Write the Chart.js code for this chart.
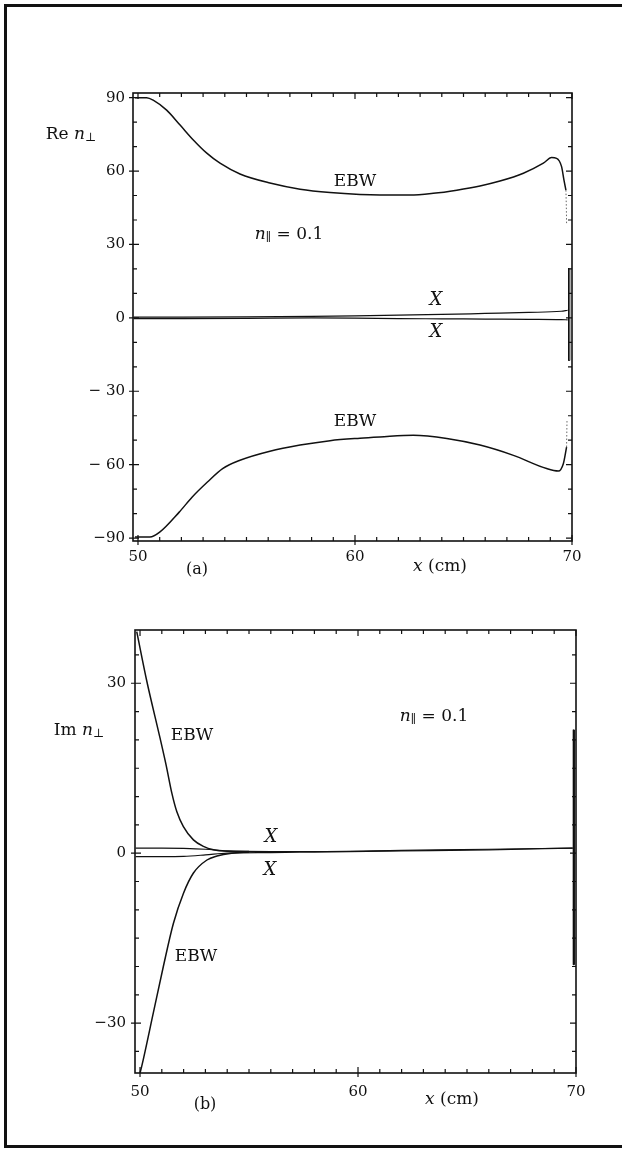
<!DOCTYPE html>
<html><head><meta charset="utf-8">
<script src="https://cdn.jsdelivr.net/npm/chart.js@4.4.1/dist/chart.umd.min.js"></script>
<style>
html,body{margin:0;padding:0;background:#fff;}
#page{position:relative;width:622px;height:1150px;overflow:hidden;background:#fff;}
#frame{position:absolute;left:4px;top:4px;width:700px;height:1138px;border:3px solid #111;border-right:none;}
canvas{position:absolute;left:0;}
.lbl{position:absolute;transform:translate(-50%,-50%);font-family:'DejaVu Serif',serif;color:#111;white-space:nowrap;line-height:1;}
.lbl sub{font-size:70%;vertical-align:-0.25em;line-height:0;}
</style></head>
<body><div id="page">
<div id="frame"></div>
<canvas id="cRe" width="622" height="590" style="top:0"></canvas>
<canvas id="cIm" width="622" height="560" style="top:590px"></canvas>

<div class="lbl" style="left:71px;top:133px;font-size:17px;">Re <i>n</i><sub>⊥</sub></div>
<div class="lbl" style="left:355px;top:180px;font-size:17px;">EBW</div>
<div class="lbl" style="left:289px;top:233px;font-size:17px;"><i>n</i><sub>∥</sub> = 0.1</div>
<div class="lbl" style="left:436px;top:299px;font-size:18px;"><i>X</i></div>
<div class="lbl" style="left:436px;top:331px;font-size:18px;"><i>X</i></div>
<div class="lbl" style="left:355px;top:420px;font-size:17px;">EBW</div>
<div class="lbl" style="left:197px;top:569px;font-size:16px;">(a)</div>
<div class="lbl" style="left:440px;top:565px;font-size:17px;"><i>x</i> (cm)</div>

<div class="lbl" style="left:79px;top:729px;font-size:17px;">Im <i>n</i><sub>⊥</sub></div>
<div class="lbl" style="left:192px;top:734px;font-size:17px;">EBW</div>
<div class="lbl" style="left:434px;top:715px;font-size:17px;"><i>n</i><sub>∥</sub> = 0.1</div>
<div class="lbl" style="left:271px;top:836px;font-size:18px;"><i>X</i></div>
<div class="lbl" style="left:270px;top:869px;font-size:18px;"><i>X</i></div>
<div class="lbl" style="left:196px;top:955px;font-size:17px;">EBW</div>
<div class="lbl" style="left:205px;top:1104px;font-size:16px;">(b)</div>
<div class="lbl" style="left:452px;top:1098px;font-size:17px;"><i>x</i> (cm)</div>
</div>
<script>
// ---------- data: panel (a) Re n_perp ----------
const reEbwUpX = [49.86, 50.4, 50.7, 51.32, 51.94, 52.55, 53.17, 53.78, 54.7, 56.08, 57.47, 58.85, 60.23, 61.15, 62.53, 63.61, 64.69, 65.76, 66.68, 67.76, 68.68, 69.06, 69.29, 69.52, 69.63, 69.72];
const reEbwUpY = [90, 90, 89, 84.9, 78.8, 72.7, 67.3, 63.2, 58.8, 55.1, 52.6, 51.2, 50.4, 50.2, 50.2, 50.9, 52.2, 53.9, 55.9, 59.1, 63.2, 65.5, 65.2, 61.8, 56.3, 52.2];
const reEbwUpTailX = [69.72, 69.74, 69.75];
const reEbwUpTailY = [52.2, 45, 38.6];
const reEbwLoX = [49.86, 50.55, 51.0, 51.9, 52.5, 53.2, 53.9, 54.7, 56.08, 57.47, 58.85, 60.23, 61.15, 62.69, 64.23, 65.76, 67.3, 68.83, 69.37, 69.6, 69.75];
const reEbwLoY = [-89.6, -89.6, -87.6, -79.4, -73.2, -67.1, -61.6, -58.2, -54.5, -52, -50.2, -49.2, -48.7, -48, -49.3, -52, -56.2, -61.6, -62.6, -59.6, -52.8];
const reEbwLoTailX = [69.75, 69.77];
const reEbwLoTailY = [-52.8, -41.8];
const reXUpX = [49.8, 52, 55, 58, 60, 62, 64, 66, 68, 69.5, 69.8];
const reXUpY = [0.3, 0.3, 0.4, 0.6, 0.8, 1.1, 1.4, 1.8, 2.2, 2.7, 3.1];
const reXLoX = [49.8, 52, 55, 58, 60, 62, 64, 66, 68, 69.5, 69.8];
const reXLoY = [-0.3, -0.3, -0.2, 0, -0.1, -0.3, -0.4, -0.5, -0.6, -0.7, -0.8];
const reSpikeX = [69.84, 69.84, 69.9, 69.9];
const reSpikeY = [20.3, -17.4, -17.4, 20.3];
const reYTicks = [-90, -60, -30, 0, 30, 60, 90];
const reYTickLabels = ['−90', '− 60', '− 30', '0', '30', '60', '90'];
const reYMinor = [-80, -70, -50, -40, -20, -10, 10, 20, 40, 50, 70, 80];

// ---------- data: panel (b) Im n_perp ----------
const imEbwUpX = [49.85, 50.31, 50.92, 51.2, 51.46, 51.69, 51.99, 52.45, 52.91, 53.37, 54.0, 55.0];
const imEbwUpY = [39.1, 30.4, 20.3, 15.5, 10.6, 7.3, 4.7, 2.35, 1.2, 0.6, 0.35, 0.3];
const imEbwLoX = [50.0, 50.08, 50.61, 51.07, 51.53, 51.99, 52.45, 53.07, 53.53, 54.2, 55.0];
const imEbwLoY = [-38.8, -37.6, -28.2, -20, -12.4, -7.1, -3.5, -1.2, -0.5, 0, 0.2];
const imXUpX = [49.8, 51, 52, 53, 54, 56, 58, 62, 66, 69.85];
const imXUpY = [0.9, 0.9, 0.85, 0.7, 0.4, 0.3, 0.3, 0.5, 0.7, 0.9];
const imXLoX = [49.8, 51, 52, 53, 54, 56, 58, 62, 66, 69.85];
const imXLoY = [-0.6, -0.6, -0.55, -0.3, 0, 0.1, 0.2, 0.4, 0.6, 0.9];
const imSpikeX = [69.88, 69.88, 69.93, 69.93];
const imSpikeY = [21.8, -19.7, -19.7, 21.8];
const imYTicks = [-30, 0, 30];
const imYTickLabels = ['−30', '0', '30'];
const imYMinor = [-35, -25, -20, -15, -10, -5, 5, 10, 15, 20, 25, 35];

// ---------- shared x axis ----------
const xTicks = [50, 60, 70];
const xTickLabels = ['50', '60', '70'];
const xMinor = [51, 52, 53, 54, 55, 56, 57, 58, 59, 61, 62, 63, 64, 65, 66, 67, 68, 69];

const INK = '#111';
function pts(xs, ys) { return xs.map((x, i) => ({ x: x, y: ys[i] })); }
function line(xs, ys, extra) {
  return Object.assign({ data: pts(xs, ys), showLine: true, borderColor: INK, borderWidth: 1.5,
    pointRadius: 0, fill: false, cubicInterpolationMode: 'monotone' }, extra || {});
}
function straight(xs, ys, extra) {
  return Object.assign({ data: pts(xs, ys), showLine: true, borderColor: INK, borderWidth: 1,
    pointRadius: 0, fill: false, tension: 0 }, extra || {});
}

const frameTicks = {
  id: 'frameTicks',
  afterDatasetsDraw(chart, args, o) {
    const ctx = chart.ctx, a = chart.chartArea, x = chart.scales.x, y = chart.scales.y;
    ctx.save();
    ctx.strokeStyle = INK;
    ctx.lineWidth = 1.6;
    ctx.strokeRect(a.left, a.top, a.right - a.left, a.bottom - a.top);
    ctx.lineWidth = 1.2;
    ctx.beginPath();
    o.xMinor.forEach(v => { const p = x.getPixelForValue(v);
      ctx.moveTo(p, a.bottom); ctx.lineTo(p, a.bottom - 4); ctx.moveTo(p, a.top); ctx.lineTo(p, a.top + 4); });
    o.xMajor.forEach(v => { const p = x.getPixelForValue(v);
      ctx.moveTo(p, a.bottom + 4); ctx.lineTo(p, a.bottom - 6); ctx.moveTo(p, a.top); ctx.lineTo(p, a.top + 6); });
    o.yMinor.forEach(v => { const p = y.getPixelForValue(v);
      ctx.moveTo(a.left, p); ctx.lineTo(a.left + 4, p); ctx.moveTo(a.right, p); ctx.lineTo(a.right - 4, p); });
    o.yMajor.forEach(v => { const p = y.getPixelForValue(v);
      ctx.moveTo(a.left - 4, p); ctx.lineTo(a.left + 6, p); ctx.moveTo(a.right, p); ctx.lineTo(a.right - 6, p); });
    ctx.stroke();
    ctx.restore();
  }
};

function axisCfg(min, max, tickVals, tickLabels, padding, fitSize, horizontal) {
  return {
    type: 'linear', min: min, max: max,
    grid: { display: false, drawTicks: false },
    border: { display: false },
    afterBuildTicks: s => { s.ticks = tickVals.map(v => ({ value: v })); },
    afterFit: s => { if (horizontal) s.height = fitSize; else s.width = fitSize; },
    ticks: {
      padding: padding, color: INK, maxRotation: 0, autoSkip: false,
      font: { family: 'DejaVu Serif', size: 15 },
      callback: v => { const i = tickVals.indexOf(v); return i >= 0 ? tickLabels[i] : ''; }
    }
  };
}

new Chart(document.getElementById('cRe'), {
  type: 'scatter',
  data: { datasets: [
    line(reEbwUpX, reEbwUpY),
    straight(reEbwUpTailX, reEbwUpTailY, { borderDash: [1.5, 2], borderColor: '#666' }),
    line(reEbwLoX, reEbwLoY),
    straight(reEbwLoTailX, reEbwLoTailY, { borderDash: [1.5, 2], borderColor: '#666' }),
    line(reXUpX, reXUpY, { borderWidth: 1.2 }),
    line(reXLoX, reXLoY, { borderWidth: 1.2 }),
    straight(reSpikeX, reSpikeY)
  ]},
  options: {
    responsive: false, animation: false, devicePixelRatio: 1,
    layout: { padding: { left: 0, right: 50, top: 93, bottom: 0 } },
    plugins: { legend: { display: false }, tooltip: { enabled: false },
      frameTicks: { xMinor: xMinor, xMajor: xTicks, yMinor: reYMinor, yMajor: reYTicks } },
    scales: {
      x: axisCfg(49.77, 70.0, xTicks, xTickLabels, 7, 49, true),
      y: axisCfg(-91.2, 91.9, reYTicks, reYTickLabels, 8, 133, false)
    }
  },
  plugins: [frameTicks]
});

new Chart(document.getElementById('cIm'), {
  type: 'scatter',
  data: { datasets: [
    line(imEbwUpX, imEbwUpY),
    line(imEbwLoX, imEbwLoY),
    line(imXUpX, imXUpY, { borderWidth: 1.2 }),
    line(imXLoX, imXLoY, { borderWidth: 1.2 }),
    straight(imSpikeX, imSpikeY)
  ]},
  options: {
    responsive: false, animation: false, devicePixelRatio: 1,
    layout: { padding: { left: 0, right: 46, top: 40, bottom: 0 } },
    plugins: { legend: { display: false }, tooltip: { enabled: false },
      frameTicks: { xMinor: xMinor, xMajor: xTicks, yMinor: imYMinor, yMajor: imYTicks } },
    scales: {
      x: axisCfg(49.77, 70.0, xTicks, xTickLabels, 10, 77, true),
      y: axisCfg(-38.8, 39.4, imYTicks, imYTickLabels, 9, 135, false)
    }
  },
  plugins: [frameTicks]
});
</script>
</body></html>
